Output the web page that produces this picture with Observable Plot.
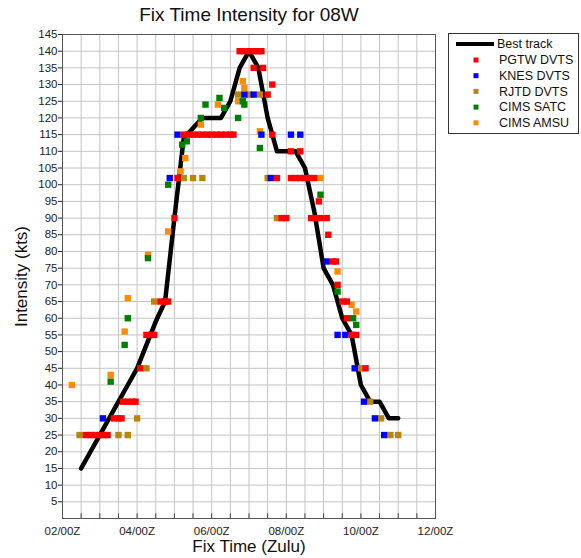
<!DOCTYPE html>
<html><head><meta charset="utf-8">
<script src="https://cdn.jsdelivr.net/npm/d3@7"></script>
<script src="https://cdn.jsdelivr.net/npm/@observablehq/plot@0.6"></script>
<style>
body{margin:0;background:#fff;}
#chart{width:581px;height:558px;}
</style></head><body><div id="chart"></div>
<script>
// Fix time strings "DD/HHZ", intensity in kts
const bestTrack = [["02/12Z",15],["02/18Z",20],["03/00Z",25],["03/06Z",30],["03/12Z",35],["03/18Z",40],["04/00Z",45],["04/06Z",52],["04/12Z",59],["04/18Z",65],["05/00Z",90],["05/06Z",114],["05/12Z",117],["05/18Z",120],["06/00Z",120],["06/06Z",120],["06/12Z",125],["06/18Z",135],["07/00Z",140],["07/06Z",135],["07/12Z",120],["07/18Z",110],["08/00Z",110],["08/06Z",110],["08/12Z",105],["08/18Z",92],["09/00Z",75],["09/06Z",70],["09/12Z",60],["09/18Z",55],["10/00Z",40],["10/06Z",35],["10/12Z",35],["10/18Z",30],["11/00Z",30]];

const pgtw = [["02/15Z",25],["02/18Z",25],["02/21Z",25],["03/00Z",25],["03/03Z",25],["03/05Z",25],
  ["03/09Z",30],["03/12Z",30],["03/14Z",30],
  ["03/15Z",35],["03/18Z",35],["03/21Z",35],["03/23Z",35],
  ["04/02Z",45],["04/06Z",55],["04/09Z",55],["04/11Z",55],
  ["04/15Z",65],["04/18Z",65],["04/20Z",65],["05/00Z",90],["05/02Z",102],
  ["05/06Z",115],["05/09Z",115],["05/12Z",115],["05/15Z",115],["05/18Z",115],["05/21Z",115],["06/00Z",115],["06/03Z",115],["06/06Z",115],["06/09Z",115],["06/12Z",115],["06/14Z",115],
  ["06/18Z",140],["06/21Z",140],["07/00Z",140],["07/03Z",140],["07/06Z",140],["07/08Z",140],
  ["07/03Z",135],["07/09Z",135],["07/15Z",130],["07/12Z",127],["07/15Z",115],
  ["08/03Z",110],["08/09Z",110],["07/18Z",102],
  ["08/03Z",102],["08/06Z",102],["08/09Z",102],["08/12Z",102],["08/15Z",102],["08/18Z",102],
  ["08/21Z",95],["07/21Z",90],["08/00Z",90],["08/16Z",90],["08/19Z",90],["08/22Z",90],["09/02Z",90],
  ["09/03Z",85],["09/06Z",77],["09/08Z",77],["09/09Z",70],["09/12Z",65],["09/15Z",65],["09/15Z",60],
  ["09/18Z",55],["09/21Z",55],["10/03Z",45]];

const knes = [["03/02Z",30],["04/21Z",102],["05/02Z",115],["06/21Z",127],["07/03Z",127],
  ["07/08Z",115],["08/03Z",115],["08/09Z",115],["07/14Z",102],["09/02Z",77],
  ["09/09Z",55],["09/14Z",55],["09/20Z",45],["10/02Z",35],["10/09Z",30],["10/15Z",25]];

const rjtd = [["02/11Z",25],["03/12Z",25],["03/18Z",25],["04/00Z",30],["04/06Z",45],["04/11Z",65],
  ["05/06Z",102],["05/12Z",102],["05/18Z",102],["06/17Z",127],["07/00Z",127],["07/07Z",127],
  ["07/12Z",102],["07/18Z",90],["10/00Z",45],["10/06Z",35],["10/13Z",30],["10/19Z",25],["11/00Z",25]];

const cimsSatc = [["03/07Z",41],["03/16Z",52],["03/18Z",60],["04/07Z",78],["04/20Z",100],
  ["05/05Z",112],["05/08Z",113],["05/17Z",120],["05/20Z",124],["06/05Z",126],["06/08Z",123],
  ["06/17Z",120],["06/20Z",125],["06/21Z",124],["07/07Z",111],["08/22Z",97],["09/09Z",68],
  ["09/19Z",60],["09/21Z",58]];

const cimsAmsu = [["02/06Z",40],["03/07Z",43],["03/16Z",56],["03/18Z",66],["04/07Z",79],
  ["04/20Z",86],["05/04Z",104],["05/07Z",108],["05/17Z",118],["06/04Z",124],["06/17Z",125],
  ["06/20Z",131],["06/21Z",129],["07/07Z",116],["08/22Z",102],["09/09Z",74],["09/18Z",64],["09/21Z",62]];

const series = [
  {name: "CIMS AMSU", data: cimsAmsu, color: "#ff8c00"},
  {name: "CIMS SATC", data: cimsSatc, color: "#008000"},
  {name: "RJTD DVTS", data: rjtd, color: "#b8860b"},
  {name: "KNES DVTS", data: knes, color: "#0000ff"},
  {name: "PGTW DVTS", data: pgtw, color: "#ff0000"}
];
const legendOrder = ["PGTW DVTS","KNES DVTS","RJTD DVTS","CIMS SATC","CIMS AMSU"];
const xTickLabels = ["02/00Z","04/00Z","06/00Z","08/00Z","10/00Z","12/00Z"];
const yTicks = d3.range(5, 146, 5);

// hours since 02/00Z
const hrs = s => { const [d, h] = s.replace("Z","").split("/").map(Number); return (d - 2) * 24 + h; };
const toRows = arr => arr.map(([t, v]) => ({t: hrs(t), v}));
const xTickVals = xTickLabels.map(hrs);
const halfDay = d3.range(12, 240, 12);

const font = "'Liberation Sans', Arial, Helvetica, sans-serif";

const plot = Plot.plot({
  width: 581, height: 558,
  marginLeft: 62, marginRight: 146, marginTop: 34, marginBottom: 40,
  style: {fontFamily: font, fontSize: "11.5px", color: "#222", background: "#fff"},
  x: {domain: [0, 240]},
  y: {domain: [0, 145]},
  marks: [
    Plot.gridY(yTicks, {stroke: "#c4c4c4", strokeOpacity: 1}),
    Plot.gridX(halfDay, {stroke: "#c4c4c4", strokeOpacity: 1}),
    Plot.ruleX(halfDay, {y1: 0, y2: 1.4, stroke: "#444"}),
    Plot.frame({stroke: "#555"}),
    Plot.axisY(yTicks, {tickSize: 4, tickPadding: 1, label: null, fontSize: 11.5}),
    Plot.axisX(xTickVals, {tickSize: 0, tickPadding: 8, label: null, fontSize: 11.5,
      tickFormat: h => xTickLabels[xTickVals.indexOf(h)]}),
    Plot.line(toRows(bestTrack), {x: "t", y: "v", stroke: "black", strokeWidth: 4.5, strokeLinejoin: "round"}),
    ...series.map(s => Plot.dot(toRows(s.data), {x: "t", y: "v", symbol: "square", r: 3.6, fill: s.color, stroke: "none"})),
    Plot.text(["Fix Time Intensity for 08W"], {frameAnchor: "top", dy: -20, lineAnchor: "middle", fontSize: 19, fill: "#111"}),
    Plot.text(["Fix Time (Zulu)"], {frameAnchor: "bottom", dy: 28, lineAnchor: "middle", fontSize: 17, fill: "#111"}),
    Plot.text(["Intensity (kts)"], {frameAnchor: "left", dx: -41, rotate: -90, textAnchor: "middle", lineAnchor: "middle", fontSize: 17, fill: "#111"})
  ]
});

// Legend drawn inside the same SVG
const svg = d3.select(plot);
const lg = svg.append("g").attr("font-family", font).attr("font-size", 12.5).attr("text-anchor", "start");
lg.append("rect").attr("x", 448.5).attr("y", 33.5).attr("width", 130).attr("height", 100)
  .attr("fill", "#fff").attr("stroke", "#333");
lg.append("line").attr("x1", 456).attr("x2", 494).attr("y1", 44).attr("y2", 44)
  .attr("stroke", "black").attr("stroke-width", 4);
lg.append("text").attr("x", 497).attr("y", 44).attr("dy", "0.35em").attr("fill", "#111").text("Best track");
legendOrder.forEach((name, i) => {
  const s = series.find(d => d.name === name);
  const y = 60 + i * 15.7;
  lg.append("rect").attr("x", 473.5).attr("y", y - 2.5).attr("width", 5).attr("height", 5).attr("fill", s.color);
  lg.append("text").attr("x", 499).attr("y", y).attr("dy", "0.35em").attr("fill", "#111").text(name);
});

document.getElementById("chart").appendChild(plot);
</script></body></html>
